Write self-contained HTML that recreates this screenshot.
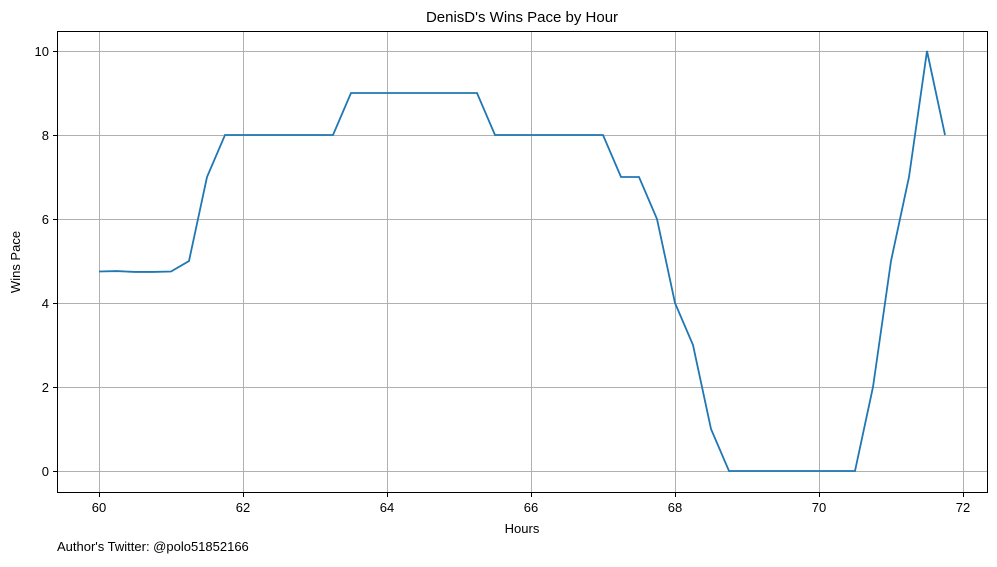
<!DOCTYPE html>
<html><head><meta charset="utf-8"><style>
body{margin:0;background:#fff;}
text{font-family:"Liberation Sans","DejaVu Sans",sans-serif;fill:#000;}
</style></head><body>
<svg id="chart" width="997" height="562" xmlns="http://www.w3.org/2000/svg">
<rect x="0" y="0" width="997" height="562" fill="#fff"/>
<text x="522" y="22" font-size="15" text-anchor="middle">DenisD's Wins Pace by Hour</text>
<g id="grid"></g>
<g id="ticks"></g>
<rect x="57.5" y="31.5" width="930" height="461" fill="none" stroke="#000" stroke-width="1"/>
<path id="line" fill="none" stroke="#1f77b4" stroke-width="1.8"/>
<text x="522" y="533" font-size="13" text-anchor="middle">Hours</text>
<text transform="translate(20,262) rotate(-90)" font-size="13" text-anchor="middle">Wins Pace</text>
<text x="57" y="551" font-size="13">Author's Twitter: @polo51852166</text>
</svg>
<script>
const hours=[60,60.25,60.5,60.75,61,61.25,61.5,61.75,62,62.25,62.5,62.75,63,63.25,63.5,63.75,64,64.25,64.5,64.75,65,65.25,65.5,65.75,66,66.25,66.5,66.75,67,67.25,67.5,67.75,68,68.25,68.5,68.75,69,69.25,69.5,69.75,70,70.25,70.5,70.75,71,71.25,71.5,71.75];
const pace=[4.75,4.76,4.74,4.74,4.75,5,7,8,8,8,8,8,8,8,9,9,9,9,9,9,9,9,8,8,8,8,8,8,8,7,7,6,4,3,1,0,0,0,0,0,0,0,0,2,5,7,10,8];
const xTicks=[60,62,64,66,68,70,72];
const yTicks=[0,2,4,6,8,10];
const X=v=>99+(v-60)*72;
const Y=v=>471-v*42;
const ns="http://www.w3.org/2000/svg";
const grid=document.getElementById('grid'),ticks=document.getElementById('ticks');
function mk(tag,attrs,parent){const e=document.createElementNS(ns,tag);for(const k in attrs)e.setAttribute(k,attrs[k]);parent.appendChild(e);return e;}
xTicks.forEach(t=>{
 const gl=mk('line',{x1:X(t)+0.5,x2:X(t)+0.5,y1:31.5,y2:492.5,stroke:'#b0b0b0','stroke-width':1},grid);
 
 
 const tk=mk('line',{x1:X(t)+0.5,x2:X(t)+0.5,y1:492.5,y2:497,stroke:'#000'},ticks);
 
 
 const tx=mk('text',{x:X(t),y:512,'font-size':13,'text-anchor':'middle'},ticks);tx.textContent=t;
 
 
});
yTicks.forEach(t=>{
 const gl=mk('line',{x1:57.5,x2:987.5,y1:Y(t)+0.5,y2:Y(t)+0.5,stroke:'#b0b0b0','stroke-width':1},grid);
 
 
 const tk=mk('line',{x1:53,x2:57.5,y1:Y(t)+0.5,y2:Y(t)+0.5,stroke:'#000'},ticks);
 
 
 const tx=mk('text',{x:49,y:Y(t)+5,'font-size':13,'text-anchor':'end'},ticks);tx.textContent=t;
 
 
});
document.getElementById('line').setAttribute('d',hours.map((h,i)=>(i?'L':'M')+X(h)+','+Y(pace[i])).join(''));
</script>
</body></html>
